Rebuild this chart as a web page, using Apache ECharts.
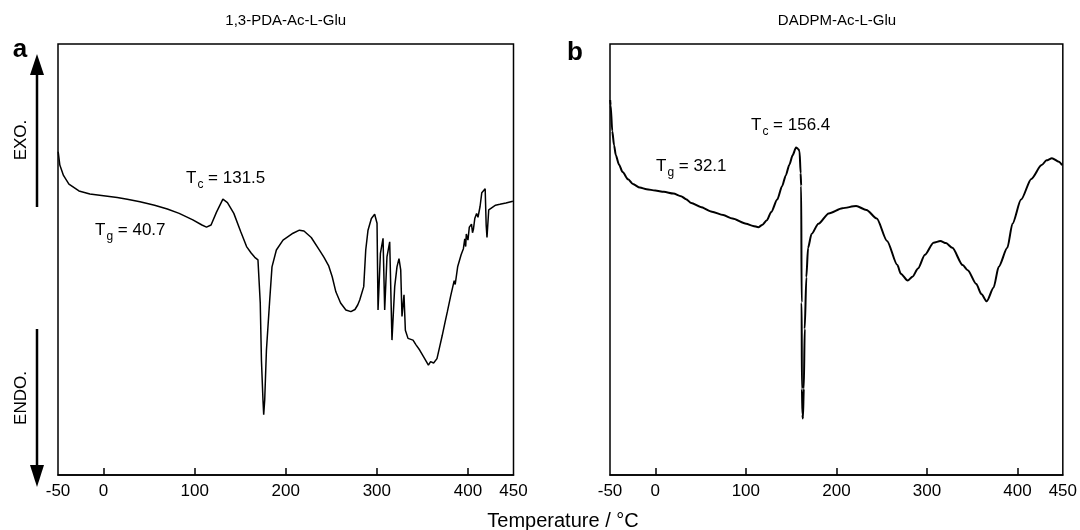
<!DOCTYPE html>
<html>
<head>
<meta charset="utf-8">
<script src="https://cdn.jsdelivr.net/npm/echarts@6/dist/echarts.min.js"></script>
<style>html,body{margin:0;padding:0;background:#fff}#c{width:1080px;height:530px}</style>
</head>
<body>
<div id="c"></div>
<script>
// ---- data (temperature °C, relative heat flow in arbitrary units) ----
const titles = ['1,3-PDA-Ac-L-Glu', 'DADPM-Ac-L-Glu'];
const panelLetters = ['a', 'b'];
const xLabelValues = [-50, 0, 100, 200, 300, 400, 450];
const xTickValues = [0, 100, 200, 300, 400];
const xTitle = 'Temperature / °C';

const curveA = [
  [-49.8,75.0],[-48,71.9],[-44,69.5],[-38,67.5],[-27,65.9],[-15,65.2],[0,64.8],[15,64.4],[26,64.0],[40,63.4],
  [56,62.6],[70,61.7],[83,60.7],[98,59.2],[108,58.0],[113,57.5],[118,58.0],[124,61.0],[131,64.0],[136,63.2],
  [143,60.7],[150.5,56.5],[157,53.0],[162,51.5],[166,50.5],[169.5,49.9],[171.4,50.3],[172,40],[173.3,26.7],[175,17.4],
  [175.8,14.0],[176.9,17.4],[178.8,29.0],[182.4,40.6],[184.9,48.3],[189.7,52.2],[197,54.5],[208,56.1],[215,56.8],[220,56.6],
  [228,55.1],[237.5,52.0],[242,50.5],[247,48.6],[251,46.0],[255,42.5],[260.2,39.9],[266,38.3],[271.5,37.9],[276,38.4],[279.1,39.5],
  [281.2,40.6],[285.6,43.7],[287.8,52.2],[290.3,56.8],[294,59.5],[297.6,60.5],[300.2,58.4],[301.3,38.3],[303.9,51.4],[306.8,54.9],
  [308.6,38.3],[311.1,50.6],[314.1,54.1],[316.6,31.3],[319.6,43.7],[322.1,48.3],[324.3,50.2],[326.2,47.6],[327.6,36.8],[329.8,41.8],
  [331.3,33.6],[334.2,31.7],[339.7,31.3],[343,30.2],[347,29.0],[352,27.2],[356.6,25.5],[359,26.3],[362.3,26.0],[366,27.0],[369,29.8],[371.7,32.3],
  [375,35.6],[377.4,37.9],[381,41.5],[384.9,45.1],[386,44.2],[388.7,48.3],[392.5,51.1],[395,52.5],[396.5,54.8],[397.5,53.0],[398.2,55.9],[400,54.5],[401.5,57.5],[403.9,58.2],
  [405,56.2],[406,57.0],[407.5,59.5],[409.5,60.7],[411,59.8],[413.3,62.3],[415.2,65.5],[418.9,66.4],[420,58.0],[420.9,55.1],[422.8,61.5],[426,62.0],[430.3,62.6],
  [435,62.8],[441.7,63.1],[449.3,63.5]
];

const curveB = [
  [-49.8,87.0],[-49.3,85.8],[-47.5,79.8],[-45.5,76.5],[-43.6,74.2],[-40,72.0],[-36.1,70.3],[-30,68.6],[-24.7,67.5],[-17,66.7],[-9.6,66.3],[0,66.0],[9.5,65.7],[20,65.3],[28.4,64.7],
  [34,64.0],[39.8,63.1],[50,62.2],[62.6,61.1],[75,60.3],[85.2,59.5],[100.4,58.3],[108,57.8],[113.8,57.5],[118,58.0],[123.2,59.1],
  [128,61.0],[134.6,63.9],[140,67.0],[144.1,69.5],[148,72.0],[151.7,74.2],[155.4,76.0],[158,75.6],[159.3,75.1],[160.5,70.0],
  [161.1,67.1],[161.6,40.0],[161.9,20.0],[162.5,14.0],[163.0,13.1],[164,20.0],[165.0,33.9],[166.8,45.9],[168.7,52.7],[172.5,55.9],
  [180.1,58.3],[191.5,60.7],[206.6,61.9],[221.8,62.4],[233.2,61.5],[244.6,59.5],[255.9,54.3],[267.3,48.7],[271.1,46.7],[278.7,45.1],
  [284,46.0],[290.1,47.9],[297.7,51.1],[307.2,53.9],[314.8,54.3],[321,53.8],[328,52.7],[339.4,48.7],[345,47.5],[354.5,44.3],
  [360,42.0],[366,40.3],[373.6,43.5],[379.2,48.3],[388.7,52.7],[394.4,58.3],[403.9,63.9],[415.2,68.7],[426.6,71.9],[432,73.0],
  [438,73.5],[445.6,72.7],[449.3,71.9]
];

const annotations = [
  { panel: 0, sub: 'c', value: '131.5' },
  { panel: 0, sub: 'g', value: '40.7' },
  { panel: 1, sub: 'c', value: '156.4' },
  { panel: 1, sub: 'g', value: '32.1' }
];

// ---- chart ----
const FONT = '"Liberation Sans", Arial, Helvetica, sans-serif';
const chart = echarts.init(document.getElementById('c'), null, { renderer: 'canvas' });

const grids = [
  { left: 58, top: 44, width: 455.5, height: 431 },
  { left: 610, top: 44, width: 454, height: 431 }
];

function xAxis(i) {
  return {
    gridIndex: i, type: 'value', min: -50, max: 450,
    axisLine: { show: true, lineStyle: { color: '#000', width: 1.5 } },
    axisTick: { show: true, inside: true, length: 7, customValues: xTickValues, lineStyle: { color: '#000', width: 1.5 } },
    axisLabel: { show: true, customValues: xLabelValues, color: '#000', fontSize: 17, fontFamily: FONT, margin: 8 },
    splitLine: { show: false }
  };
}
function yAxis(i) {
  return { gridIndex: i, type: 'value', min: 0, max: 100, show: false, splitLine: { show: false } };
}

const annotPos = [
  { left: 186, top: 170 },
  { left: 95, top: 222 },
  { left: 751, top: 117 },
  { left: 656, top: 158 }
];

function annotText(a) {
  return {
    text: '{t|T}{s|' + a.sub + '}{t| = ' + a.value + '}',
    rich: {
      t: { fontSize: 17, fontFamily: FONT, fill: '#000' },
      s: { fontSize: 12, fontFamily: FONT, fill: '#000', padding: [12, 0, 0, 1] }
    }
  };
}

const graphics = [];
titles.forEach((t, i) => {
  graphics.push({
    type: 'text', x: grids[i].left + grids[i].width / 2, y: 21,
    style: { text: t, fill: '#000', font: '15px ' + FONT, align: 'center', verticalAlign: 'middle' }
  });
});
graphics.push({ type: 'text', x: 20, y: 50, style: { text: panelLetters[0], fill: '#000', font: 'bold 26px ' + FONT, align: 'center', verticalAlign: 'middle' } });
graphics.push({ type: 'text', x: 575, y: 53, style: { text: panelLetters[1], fill: '#000', font: 'bold 26px ' + FONT, align: 'center', verticalAlign: 'middle' } });
annotations.forEach((a, i) => {
  graphics.push({ type: 'text', left: annotPos[i].left, top: annotPos[i].top, style: annotText(a) });
});
graphics.push({ type: 'line', shape: { x1: 37, y1: 207, x2: 37, y2: 70 }, style: { stroke: '#000', lineWidth: 2.5 } });
graphics.push({ type: 'polygon', shape: { points: [[30, 75], [37, 54], [44, 75]] }, style: { fill: '#000' } });
graphics.push({ type: 'line', shape: { x1: 37, y1: 329, x2: 37, y2: 470 }, style: { stroke: '#000', lineWidth: 2.5 } });
graphics.push({ type: 'polygon', shape: { points: [[30, 465], [37, 487], [44, 465]] }, style: { fill: '#000' } });
graphics.push({ type: 'text', x: 21, y: 140, rotation: Math.PI / 2, style: { text: 'EXO.', fill: '#000', font: '17px ' + FONT, align: 'center', verticalAlign: 'middle' } });
graphics.push({ type: 'text', x: 21, y: 398, rotation: Math.PI / 2, style: { text: 'ENDO.', fill: '#000', font: '17px ' + FONT, align: 'center', verticalAlign: 'middle' } });
graphics.push({ type: 'text', x: 563, y: 521, style: { text: xTitle, fill: '#000', font: '20px ' + FONT, align: 'center', verticalAlign: 'middle' } });

chart.setOption({
  animation: false,
  backgroundColor: '#fff',
  grid: grids.map(g => Object.assign({ show: true, borderColor: '#000', borderWidth: 1.5, backgroundColor: 'transparent' }, g)),
  xAxis: [xAxis(0), xAxis(1)],
  yAxis: [yAxis(0), yAxis(1)],
  series: [
    { type: 'line', xAxisIndex: 0, yAxisIndex: 0, data: curveA, showSymbol: false, symbol: 'none', lineStyle: { color: '#000', width: 1.5 } },
    { type: 'line', xAxisIndex: 1, yAxisIndex: 1, data: curveB, showSymbol: false, symbol: 'none', smooth: 0.25, smoothMonotone: 'x', lineStyle: { color: '#000', width: 2 } }
  ],
  graphic: graphics
});
</script>
</body>
</html>
